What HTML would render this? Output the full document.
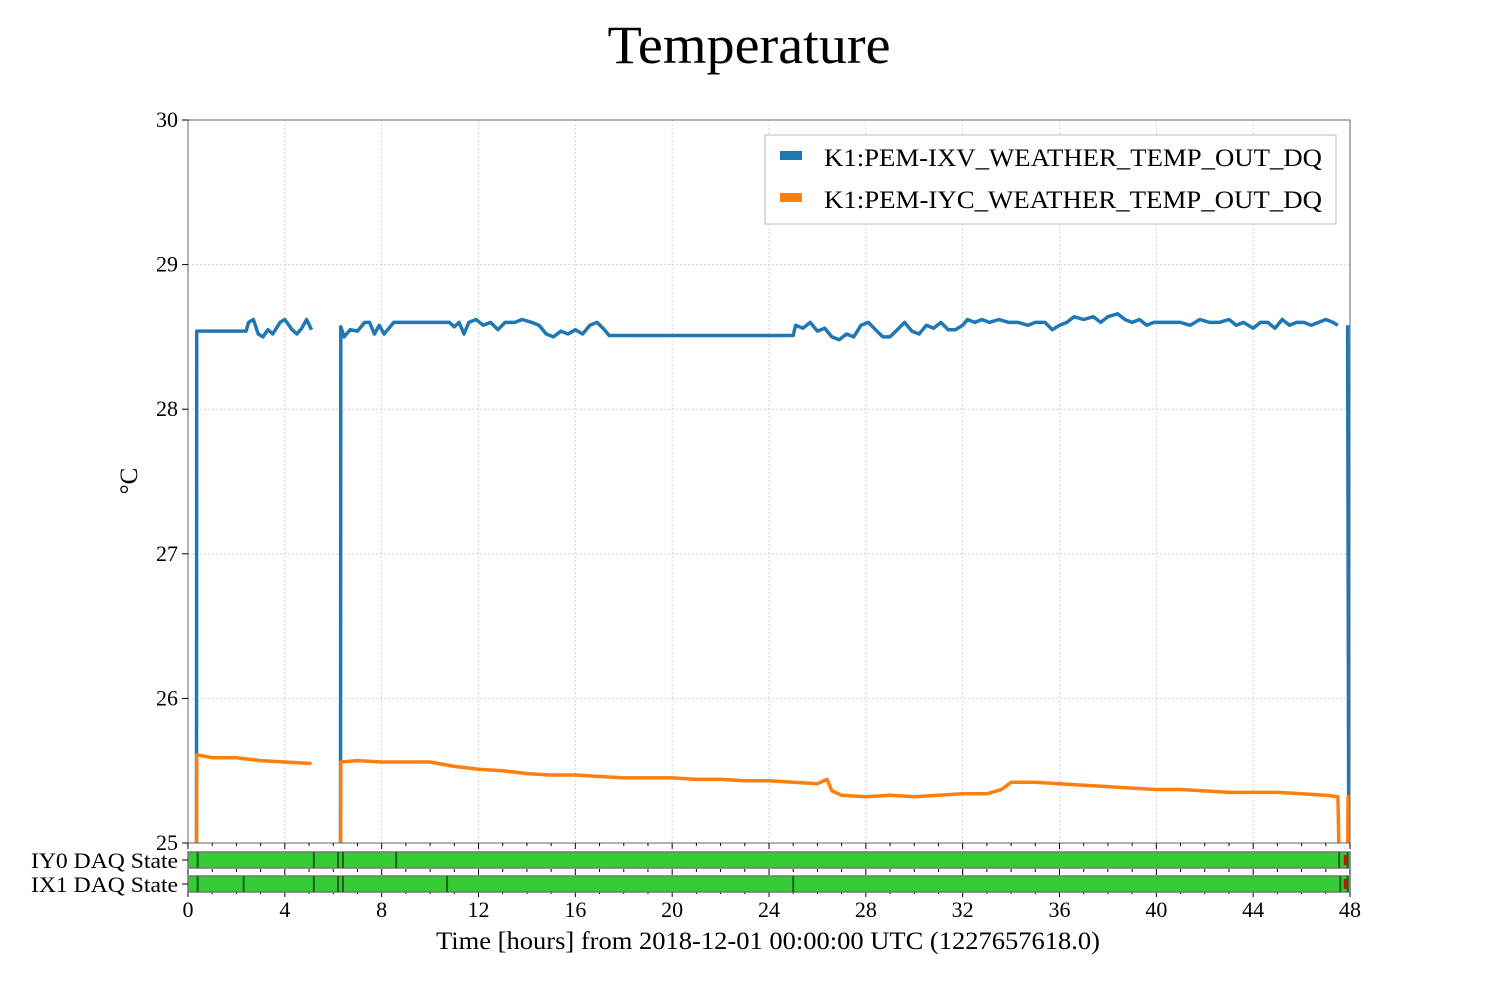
<!DOCTYPE html>
<html><head><meta charset="utf-8"><style>
body{margin:0;background:#fff}
svg text{font-family:"Liberation Serif",serif;fill:#000}
</style></head><body>
<svg id="chart" width="1500" height="1000">
<text x="749" y="63" font-size="54" text-anchor="middle" textLength="283" lengthAdjust="spacingAndGlyphs">Temperature</text>
<g id="grid"></g>
<defs><clipPath id="clip"><rect x="188" y="120" width="1162" height="723"/></clipPath></defs>
<g id="series" clip-path="url(#clip)"></g>
<rect x="188" y="120" width="1162" height="723" fill="none" stroke="#666" stroke-width="1"/>
<g id="axes"></g>
<g id="states"></g>
<text x="137" y="481" font-size="25" text-anchor="middle" transform="rotate(-90 137 481)">°C</text>
<text x="768" y="949" font-size="25" text-anchor="middle" textLength="664" lengthAdjust="spacingAndGlyphs">Time [hours] from 2018-12-01 00:00:00 UTC (1227657618.0)</text>
<g>
<rect x="765" y="135" width="571" height="89" fill="#fff" stroke="#bbb"/>
<rect x="780" y="151" width="22" height="9" fill="#1f77b4"/>
<text x="824" y="166" font-size="25" textLength="498" lengthAdjust="spacingAndGlyphs">K1:PEM-IXV_WEATHER_TEMP_OUT_DQ</text>
<rect x="780" y="193" width="22" height="9" fill="#ff7f0e"/>
<text x="824" y="208" font-size="25" textLength="498" lengthAdjust="spacingAndGlyphs">K1:PEM-IYC_WEATHER_TEMP_OUT_DQ</text>
</g>
</svg>
<script>
const xTicks=[0,4,8,12,16,20,24,28,32,36,40,44,48];
const yTicks=[25,26,27,28,29,30];
const blueT=[0.35,0.36,2.4,2.5,2.7,2.9,3.1,3.3,3.5,3.8,4.0,4.3,4.5,4.7,4.9,5.1,null,6.3,6.31,6.45,6.7,7.0,7.3,7.5,7.7,7.9,8.1,8.3,8.5,10.8,11.0,11.2,11.4,11.6,11.9,12.2,12.5,12.8,13.1,13.5,13.8,14.2,14.5,14.8,15.1,15.4,15.7,16.0,16.3,16.6,16.9,17.2,17.4,25.0,25.1,25.4,25.7,26.0,26.3,26.6,26.9,27.2,27.5,27.8,28.1,28.4,28.7,29.0,29.3,29.6,29.9,30.2,30.5,30.8,31.1,31.4,31.7,32.0,32.2,32.5,32.8,33.1,33.5,33.9,34.3,34.7,35.0,35.4,35.7,36.0,36.3,36.6,37.0,37.4,37.7,38.0,38.4,38.7,39.0,39.3,39.6,39.9,40.2,40.6,41.0,41.4,41.8,42.2,42.6,43.0,43.3,43.6,44.0,44.3,44.6,44.9,45.2,45.5,45.8,46.1,46.4,46.7,47.0,47.3,47.5,null,47.9,47.95];
const blueV=[24.9,28.54,28.54,28.6,28.62,28.52,28.5,28.55,28.52,28.6,28.62,28.55,28.52,28.56,28.62,28.55,null,24.9,28.57,28.5,28.55,28.54,28.6,28.6,28.52,28.58,28.52,28.56,28.6,28.6,28.57,28.6,28.52,28.6,28.62,28.58,28.6,28.55,28.6,28.6,28.62,28.6,28.58,28.52,28.5,28.54,28.52,28.55,28.52,28.58,28.6,28.55,28.51,28.51,28.58,28.56,28.6,28.54,28.56,28.5,28.48,28.52,28.5,28.58,28.6,28.55,28.5,28.5,28.55,28.6,28.54,28.52,28.58,28.56,28.6,28.55,28.55,28.58,28.62,28.6,28.62,28.6,28.62,28.6,28.6,28.58,28.6,28.6,28.55,28.58,28.6,28.64,28.62,28.64,28.6,28.64,28.66,28.62,28.6,28.62,28.58,28.6,28.6,28.6,28.6,28.58,28.62,28.6,28.6,28.62,28.58,28.6,28.56,28.6,28.6,28.56,28.62,28.58,28.6,28.6,28.58,28.6,28.62,28.6,28.58,null,28.58,24.9];
const orangeT=[0.35,0.36,1,2,3,4,5.1,null,6.3,6.31,7,8,9,10,11,12,13,14,15,16,17,18,19,20,21,22,23,24,25,26,26.4,26.6,27,28,29,30,31,32,33,33.6,34,35,36,37,38,39,40,41,42,43,44,45,46,47,47.5,47.55,null,47.9,47.92,48];
const orangeV=[24.9,25.61,25.59,25.59,25.57,25.56,25.55,null,24.9,25.56,25.57,25.56,25.56,25.56,25.53,25.51,25.5,25.48,25.47,25.47,25.46,25.45,25.45,25.45,25.44,25.44,25.43,25.43,25.42,25.41,25.44,25.36,25.33,25.32,25.33,25.32,25.33,25.34,25.34,25.37,25.42,25.42,25.41,25.4,25.39,25.38,25.37,25.37,25.36,25.35,25.35,25.35,25.34,25.33,25.32,24.9,null,24.9,25.32,25.32];
const iy0Events=[0.4,5.2,6.2,6.4,8.6,47.55,47.9];
const ix1Events=[0.4,2.3,5.2,6.2,6.4,10.7,25.0,47.6,47.9];
const redEvents=[47.8];
const stateLabels=["IY0 DAQ State","IX1 DAQ State"];

const NS="http://www.w3.org/2000/svg";
const X=t=>188+t/48*1162;
const Y=v=>843-(v-25)/5*723;
function mk(tag,attrs,parent){const e=document.createElementNS(NS,tag);for(const k in attrs)e.setAttribute(k,attrs[k]);parent.appendChild(e);return e;}
const grid=document.getElementById('grid'),axes=document.getElementById('axes'),series=document.getElementById('series'),states=document.getElementById('states');
xTicks.forEach(t=>{
 const g=mk('line',{x1:X(t),x2:X(t),y1:120,y2:843,stroke:'#ccc','stroke-dasharray':'2,2','stroke-width':0.8},grid);
 
 
 const l=mk('text',{x:X(t),y:917,'font-size':22,'text-anchor':'middle'},axes);l.textContent=t;
 
 
});
for(let t=0;t<=48;t++){
 const len=t%4===0?6:3;
 [843,869,891].forEach(y=>{mk('line',{x1:X(t),x2:X(t),y1:y,y2:y+len,stroke:'#000','stroke-width':1},axes);});
}
yTicks.forEach(v=>{
 if(v!==25&&v!==30){const g=mk('line',{x1:188,x2:1350,y1:Y(v),y2:Y(v),stroke:'#ccc','stroke-dasharray':'2,2','stroke-width':0.8},grid);
 
 }
 mk('line',{x1:182,x2:188,y1:Y(v),y2:Y(v),stroke:'#000'},axes);
 const l=mk('text',{x:178,y:Y(v)+7,'font-size':22,'text-anchor':'end'},axes);l.textContent=v;
 
 
});
function path(T,V){let d='',pen=false;for(let i=0;i<T.length;i++){if(T[i]===null){pen=false;continue;}d+=(pen?'L':'M')+X(T[i]).toFixed(1)+' '+Y(V[i]).toFixed(1);pen=true;}return d;}
const pb=mk('path',{d:path(blueT,blueV),fill:'none',stroke:'#1f77b4','stroke-width':3.5,'stroke-linejoin':'round'},series);


const po=mk('path',{d:path(orangeT,orangeV),fill:'none',stroke:'#ff7f0e','stroke-width':3.5,'stroke-linejoin':'round'},series);


[[852,iy0Events],[876,ix1Events]].forEach((r,i)=>{
 const y=r[0];
 const bar=mk('rect',{x:188,y:y,width:1162,height:16,fill:'#33cc33',stroke:'#777','stroke-width':1.5},states);
 
 
 r[1].forEach(t=>{const m=mk('line',{x1:X(t),x2:X(t),y1:y,y2:y+16,stroke:'#1e5e1e','stroke-width':2},states);
  
  });
 redEvents.forEach(t=>{const m=mk('rect',{x:X(t)-1.5,y:y+3,width:3,height:10,fill:'#cc1111'},states);
  
  });
 mk('line',{x1:182,x2:188,y1:y+8,y2:y+8,stroke:'#000'},states);
 const l=mk('text',{x:178,y:y+16,'font-size':22,'text-anchor':'end',textLength:147,lengthAdjust:'spacingAndGlyphs'},states);l.textContent=stateLabels[i];
 
 
});
</script>
</body></html>
